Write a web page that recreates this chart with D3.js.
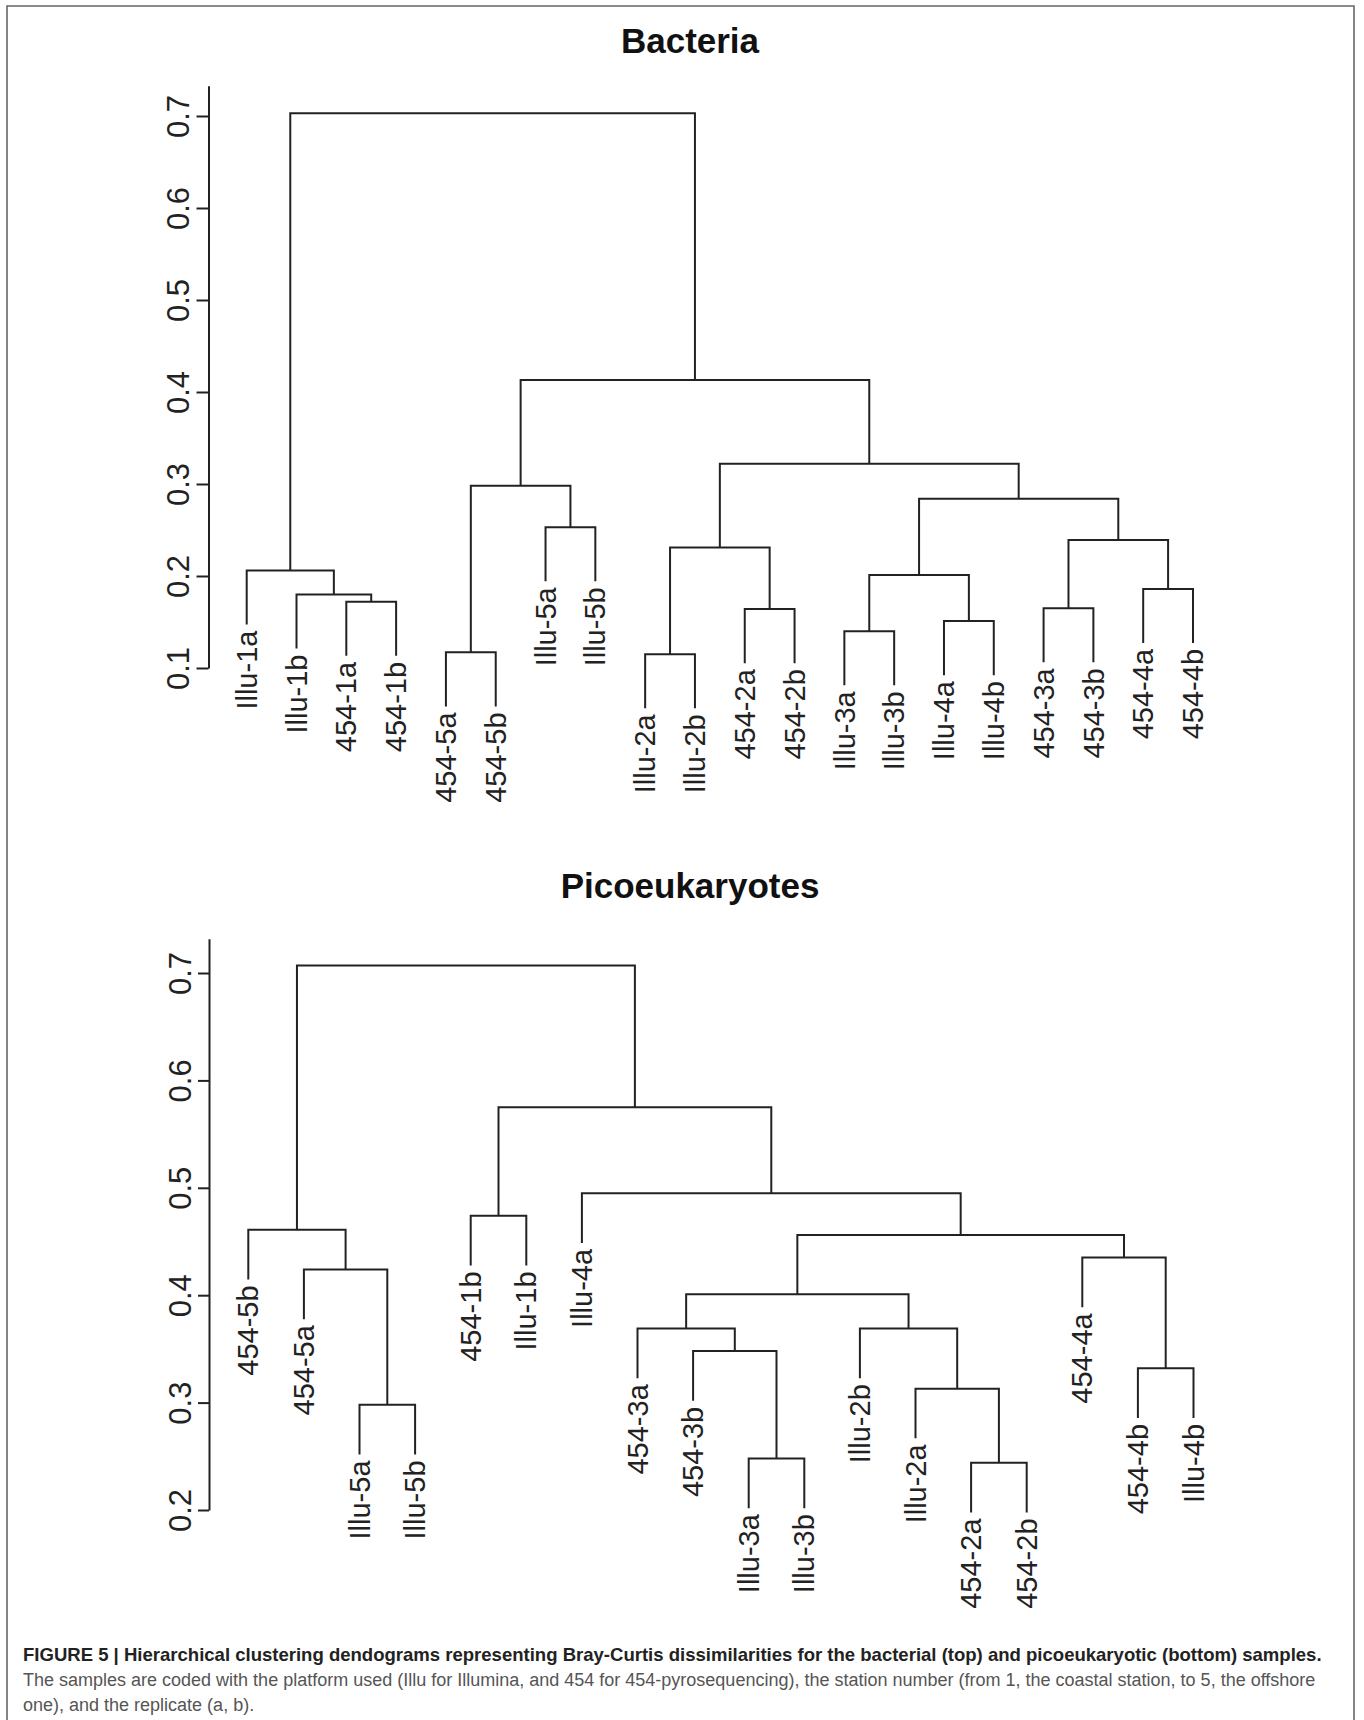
<!DOCTYPE html>
<html><head><meta charset="utf-8">
<script src="https://cdn.jsdelivr.net/npm/d3@7"></script>
<style>body{margin:0;background:#fff} svg{display:block}</style>
</head><body>
<svg id="c" width="1364" height="1720"></svg>
<script>
// ---------- Data: Bacteria ----------
const titleB = "Bacteria";
const leavesB = ["Illu-1a","Illu-1b","454-1a","454-1b","454-5a","454-5b","Illu-5a","Illu-5b",
  "Illu-2a","Illu-2b","454-2a","454-2b","Illu-3a","Illu-3b","Illu-4a","Illu-4b",
  "454-3a","454-3b","454-4a","454-4b"];
// merges: strings = leaves, numbers = earlier merge index
const mergesB = [["454-1a","454-1b"],["Illu-1b",0],["Illu-1a",1],["454-5a","454-5b"],
  ["Illu-5a","Illu-5b"],[3,4],["Illu-2a","Illu-2b"],["454-2a","454-2b"],[6,7],
  ["Illu-3a","Illu-3b"],["Illu-4a","Illu-4b"],[9,10],["454-3a","454-3b"],["454-4a","454-4b"],
  [12,13],[11,14],[8,15],[5,16],[2,17]];
const heightsB = [0.172,0.180,0.206,0.117,0.253,0.298,0.115,0.164,0.231,0.140,0.151,0.201,
  0.165,0.186,0.239,0.284,0.322,0.413,0.703];
const ticksB = [0.1,0.2,0.3,0.4,0.5,0.6,0.7];

// ---------- Data: Picoeukaryotes ----------
const titleP = "Picoeukaryotes";
const leavesP = ["454-5b","454-5a","Illu-5a","Illu-5b","454-1b","Illu-1b","Illu-4a","454-3a",
  "454-3b","Illu-3a","Illu-3b","Illu-2b","Illu-2a","454-2a","454-2b","454-4a","454-4b","Illu-4b"];
const mergesP = [["Illu-5a","Illu-5b"],["454-5a",0],["454-5b",1],["454-1b","Illu-1b"],
  ["Illu-3a","Illu-3b"],["454-3b",4],["454-3a",5],["454-2a","454-2b"],["Illu-2a",7],
  ["Illu-2b",8],[6,9],["454-4b","Illu-4b"],["454-4a",11],[10,12],["Illu-4a",13],[3,14],[2,15]];
const heightsP = [0.298,0.424,0.461,0.474,0.248,0.348,0.369,0.244,0.313,0.369,0.401,0.332,
  0.435,0.456,0.495,0.575,0.707];
const ticksP = [0.2,0.3,0.4,0.5,0.6,0.7];

const captionBold = "FIGURE 5 | Hierarchical clustering dendograms representing Bray-Curtis dissimilarities for the bacterial (top) and picoeukaryotic (bottom) samples.";
const captionLines = ["The samples are coded with the platform used (Illu for Illumina, and 454 for 454-pyrosequencing), the station number (from 1, the coastal station, to 5, the offshore",
  "one), and the replicate (a, b)."];

// ---------- Drawing ----------
const FONT = "'Liberation Sans', Arial, Helvetica, sans-serif";
const INK = "#222";
const svg = d3.select("#c");
svg.append("rect").attr("width",1364).attr("height",1720).attr("fill","#fff");
// frame (open at bottom, runs off the page)
svg.append("path").attr("d","M7,1725 V6 H1354 V1725")
  .attr("fill","none").attr("stroke","#666").attr("stroke-width",1.6);

function drawPanel(cfg) {
  const g = svg.append("g");
  const x = d3.scaleLinear().domain([0, cfg.leaves.length - 1]).range(cfg.xRange);
  const y = d3.scaleLinear().domain([cfg.ticks[0], 0.7]).range(cfg.yRange);
  const hang = 0.1 * (d3.max(cfg.heights) - d3.min(cfg.heights));

  // title
  g.append("text").attr("x", 690).attr("y", cfg.titleY).attr("text-anchor","middle")
    .attr("font-family", FONT).attr("font-weight","bold").attr("font-size",35)
    .attr("fill","#111").text(cfg.title);

  // axis
  const ya = y.copy().domain([cfg.ticks[0], cfg.axisTop]).range([y(cfg.ticks[0]), y(cfg.axisTop)]);
  const ax = g.append("g").attr("transform", `translate(${cfg.axisX},0)`)
    .call(d3.axisLeft(ya).tickValues(cfg.ticks).tickFormat(d3.format(".1f"))
      .tickSizeInner(cfg.tickSize).tickSizeOuter(0));
  ax.select(".domain").attr("stroke", INK).attr("stroke-width", 2);
  ax.selectAll(".tick line").attr("stroke", INK).attr("stroke-width", 2);
  ax.selectAll(".tick text").attr("x", null).attr("dy", null).attr("y", null)
    .attr("transform", `translate(${-cfg.labelOff},0) rotate(-90)`)
    .attr("text-anchor","middle").attr("font-family", FONT).attr("font-size", 31).attr("fill", INK);

  // dendrogram
  const nodes = [];
  const leafEnds = [];
  const pos = c => typeof c === "string" ? {x: x(cfg.leaves.indexOf(c)), h: null, leaf: c} : nodes[c];
  cfg.merges.forEach((m, i) => {
    const h = cfg.heights[i];
    const [a, b] = m.map(pos);
    const ba = a.leaf ? h - hang : a.h;
    const bb = b.leaf ? h - hang : b.h;
    if (a.leaf) leafEnds.push({label: a.leaf, x: a.x, v: ba});
    if (b.leaf) leafEnds.push({label: b.leaf, x: b.x, v: bb});
    g.append("path")
      .attr("d", `M${a.x},${y(ba)}V${y(h)}H${b.x}V${y(bb)}`)
      .attr("fill","none").attr("stroke", INK).attr("stroke-width", 2);
    nodes.push({x: (a.x + b.x) / 2, h});
  });

  g.selectAll("text.leaf").data(leafEnds).join("text").attr("class","leaf")
    .attr("transform", d => `translate(${d.x},${y(d.v) + 6}) rotate(-90)`)
    .attr("text-anchor","end").attr("dy","0.35em")
    .attr("font-family", FONT).attr("font-size", 29).attr("fill", INK)
    .text(d => d.label);
}

drawPanel({title: titleB, titleY: 53, leaves: leavesB, merges: mergesB, heights: heightsB,
  ticks: ticksB, xRange: [246.7, 1193], yRange: [668, 116], axisX: 208.5, axisTop: 0.733,
  tickSize: 12, labelOff: 20});
drawPanel({title: titleP, titleY: 898, leaves: leavesP, merges: mergesP, heights: heightsP,
  ticks: ticksP, xRange: [248.3, 1193.5], yRange: [1510, 973], axisX: 209, axisTop: 0.732,
  tickSize: 11, labelOff: 18});

// caption
function fitText(sel, width) {
  const w = sel.node().getComputedTextLength();
  const fs = parseFloat(sel.attr("font-size"));
  sel.attr("font-size", (fs * width / w).toFixed(2));
  return fs * width / w;
}
const c1 = svg.append("text").attr("x", 23).attr("y", 1661).attr("font-family", FONT)
  .attr("font-weight","bold").attr("font-size", 17).attr("fill", "#222").text(captionBold);
fitText(c1, 1299);
const c2 = svg.append("text").attr("x", 23).attr("y", 1686).attr("font-family", FONT)
  .attr("font-size", 17).attr("fill", "#555").text(captionLines[0]);
const fs2 = fitText(c2, 1293);
svg.append("text").attr("x", 23).attr("y", 1711).attr("font-family", FONT)
  .attr("font-size", fs2.toFixed(2)).attr("fill", "#555").text(captionLines[1]);
</script>
</body></html>
